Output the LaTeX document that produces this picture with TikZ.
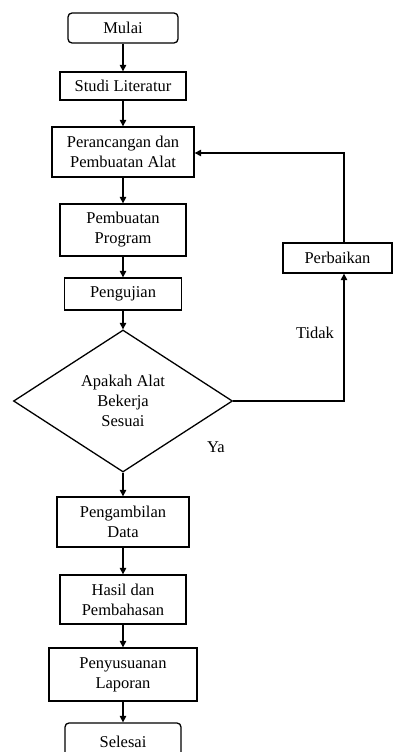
\documentclass[tikz,border=0pt]{standalone}
\usepackage{fontspec}
\setmainfont{Liberation Serif}
\usetikzlibrary{arrows.meta,shapes.geometric,calc}
\begin{document}
\begin{tikzpicture}[x=1pt,y=-1pt,
  every node/.style={font=\fontsize{16.5}{20}\selectfont, align=center, inner sep=0pt},
  stepbox/.style={draw, line width=1.3pt, rectangle},
  termbox/.style={draw, line width=1.3pt, rectangle, rounded corners=4pt},
  conn/.style={line width=1.2pt, -{Triangle[length=6.5pt,width=6.5pt]}},
  plain/.style={line width=1.2pt}
]
\useasboundingbox (0,0) rectangle (393,752);
\node[termbox, minimum width=110pt, minimum height=30pt] (mulai) at (123,28) {Mulai};
\node[stepbox, minimum width=126pt, minimum height=28pt] (studi) at (123,86) {Studi Literatur};
\node[stepbox, minimum width=142pt, minimum height=50pt] (rancang) at (123,152) {Perancangan dan\\Pembuatan Alat};
\node[stepbox, minimum width=126pt, minimum height=52pt] (program) at (123,230) {Pembuatan\\Program};
\node[stepbox, minimum width=117pt, minimum height=32pt] (uji) at (123,294) {Pengujian};
\node[draw, line width=1.3pt, diamond, aspect=1.54, minimum width=219pt, minimum height=142pt] (cek) at (123,401) {Apakah Alat\\Bekerja\\Sesuai};
\node[stepbox, minimum width=109pt, minimum height=30pt] (baik) at (337.5,258) {Perbaikan};
\node[stepbox, minimum width=132pt, minimum height=50pt] (ambil) at (123,522) {Pengambilan\\Data};
\node[stepbox, minimum width=126pt, minimum height=49pt] (hasil) at (123,599.5) {Hasil dan\\Pembahasan};
\node[stepbox, minimum width=148pt, minimum height=53pt] (susun) at (123,674.5) {Penyusuanan\\Laporan};
\node[termbox, minimum width=116pt, minimum height=38pt] (selesai) at (123,742) {Selesai};
\node (tidak) at (315,333) {Tidak};
\node (ya) at (216,447) {Ya};
\coordinate (k1) at (344,401);
\coordinate (k2) at (344,153);
\draw[conn] (mulai) -- (studi);
\draw[conn] (studi) -- (rancang);
\draw[conn] (rancang) -- (program);
\draw[conn] (program) -- (uji);
\draw[conn] (uji) -- (cek);
\draw[conn] (cek) -- (ambil);
\draw[conn] (ambil) -- (hasil);
\draw[conn] (hasil) -- (susun);
\draw[conn] (susun) -- (selesai);
\draw[conn] (cek.east) -- (k1) -- (k1 |- baik.south);
\draw[conn] (k2 |- baik.north) -- (k2) -- (k2 -| rancang.east);
\end{tikzpicture}
\end{document}
